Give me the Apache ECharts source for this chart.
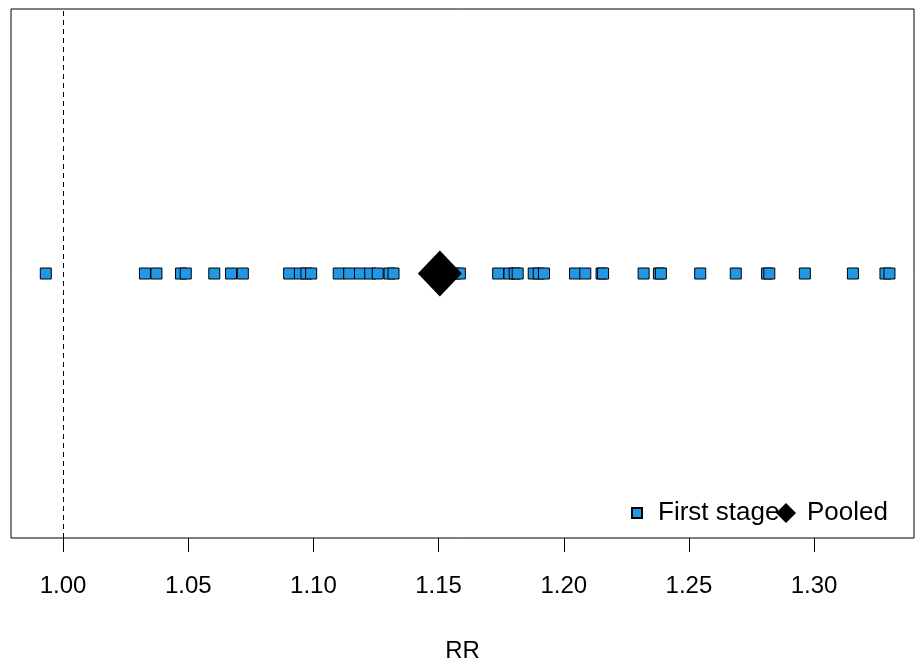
<!DOCTYPE html>
<html>
<head>
<meta charset="utf-8">
<script src="https://cdn.jsdelivr.net/npm/echarts@6/dist/echarts.min.js"></script>
<style>
html,body{margin:0;padding:0;background:#fff;}
#chart{width:916px;height:664px;}
</style>
</head>
<body>
<div id="chart"></div>
<script>
// First-stage estimates (RR)
var firstStage = [
  0.9931, 1.0327, 1.0373, 1.0471, 1.0490, 1.0604, 1.0671, 1.0718,
  1.0903, 1.0946, 1.0972, 1.0991, 1.1101, 1.1143, 1.1186, 1.1227,
  1.1257, 1.1304, 1.1320, 1.1565, 1.1585, 1.1738, 1.1783, 1.1804,
  1.1816, 1.1880, 1.1900, 1.1921, 1.2045, 1.2086, 1.2151, 1.2157,
  1.2319, 1.2380, 1.2388, 1.2545, 1.2687, 1.2812, 1.2821, 1.2963,
  1.3155, 1.3285, 1.3301
];
var pooled = [1.1505];
var tickValues = [1.00, 1.05, 1.10, 1.15, 1.20, 1.25, 1.30];
var refLine = 1.00;
var seriesNames = ['First stage', 'Pooled'];

var font = 'Liberation Sans, Arial, sans-serif';
var chart = echarts.init(document.getElementById('chart'), null, {renderer: 'canvas'});
chart.setOption({
  animation: false,
  backgroundColor: '#fff',
  grid: {left: 11, right: 2, top: 9, bottom: 126, show: true, borderColor: '#000', borderWidth: 1,
    backgroundColor: 'transparent', containLabel: false, outerBoundsMode: 'none'},
  legend: [
    {data: [seriesNames[0]], left: 631, top: 500, itemWidth: 10, itemHeight: 10, padding: 0,
     textStyle: {fontFamily: font, fontSize: 26, color: '#000', padding: [0, 0, 0, 11]}, selectedMode: false},
    {data: [seriesNames[1]], left: 776, top: 500, itemWidth: 20, itemHeight: 20, padding: 0,
     textStyle: {fontFamily: font, fontSize: 26, color: '#000', padding: [0, 0, 0, 6]}, selectedMode: false}
  ],
  xAxis: {
    type: 'value', min: 0.9792, max: 1.3399,
    axisLine: {show: false, onZero: false},
    splitLine: {show: false},
    axisTick: {show: true, customValues: tickValues, length: 14, lineStyle: {color: '#000', width: 1}},
    axisLabel: {show: true, customValues: tickValues, margin: 36, color: '#000', fontFamily: font, fontSize: 24,
      formatter: function (v) { return v.toFixed(2); }},
    name: 'RR', nameLocation: 'middle', nameGap: 101,
    nameTextStyle: {fontFamily: font, fontSize: 24, color: '#000'}
  },
  yAxis: {type: 'value', min: -1, max: 1, show: false, splitLine: {show: false}},
  series: [
    {
      name: seriesNames[0], type: 'scatter', symbol: 'rect', symbolSize: 11,
      itemStyle: {color: '#2297E6', borderColor: '#000', borderWidth: 1, opacity: 1},
      data: firstStage.map(function (v) { return [v, 0]; }),
      markLine: {
        silent: true, symbol: 'none', label: {show: false},
        lineStyle: {color: '#000', width: 1, type: [5, 4]},
        data: [{xAxis: refLine}]
      }
    },
    {
      name: seriesNames[1], type: 'scatter', symbol: 'diamond', symbolSize: [44, 46], z: 3,
      itemStyle: {color: '#000', opacity: 1},
      data: pooled.map(function (v) { return [v, 0]; })
    }
  ]
});
</script>
</body>
</html>
